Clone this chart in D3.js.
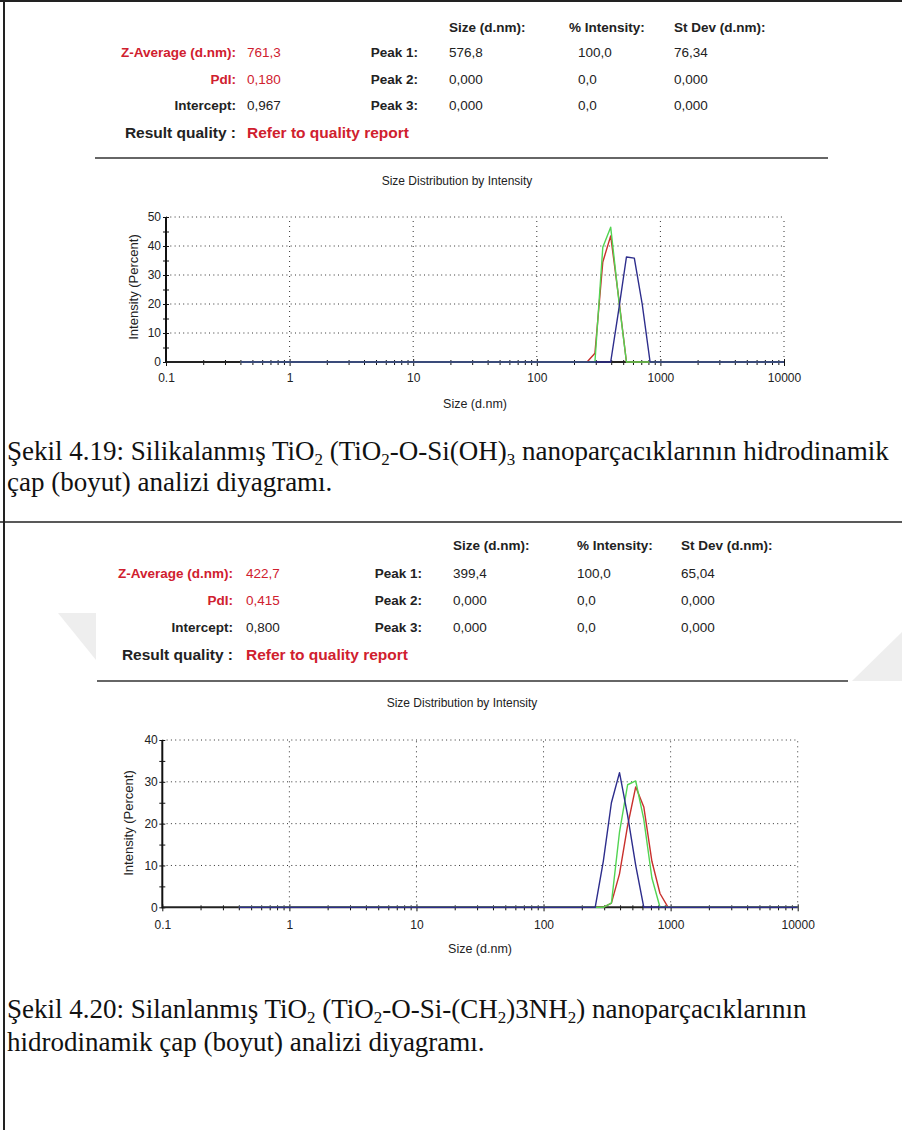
<!DOCTYPE html>
<html>
<head>
<meta charset="utf-8">
<script src="https://cdn.jsdelivr.net/npm/d3@7"></script>
<style>
  body { margin: 0; background: #fff; }
  svg text { font-family: "Liberation Sans", Arial, sans-serif; }
  svg text.caption { font-family: "Liberation Serif", "Times New Roman", serif; }
</style>
</head>
<body>
<div id="container"></div>
<script>
const W = 902, H = 1130;

// report table text
const headers = ["Size (d.nm):", "% Intensity:", "St Dev (d.nm):"];
const peakLabels = ["Peak 1:", "Peak 2:", "Peak 3:"];
const summaryLabels = ["Z-Average (d.nm):", "PdI:", "Intercept:"];
const summary1 = ["761,3", "0,180", "0,967"];
const summary2 = ["422,7", "0,415", "0,800"];
const peaks1 = [["576,8", "100,0", "76,34"], ["0,000", "0,0", "0,000"], ["0,000", "0,0", "0,000"]];
const peaks2 = [["399,4", "100,0", "65,04"], ["0,000", "0,0", "0,000"], ["0,000", "0,0", "0,000"]];

// axes
const xTickLabels = {0.1: "0.1", 1: "1", 10: "10", 100: "100", 1000: "1000", 10000: "10000"};
const yMax1 = 50, yMax2 = 40;

// size bins (d.nm) and intensity (%)
const sizes1 = [0.4, 255.0, 295.3, 342.0, 396.1, 458.7, 531.2, 615.1, 712.4, 825.0, 10000];
const red1   = [0, 0, 3, 34.5, 43.5, 22.5, 0, 0, 0, 0, 0];
const green1 = [0, 0, 0, 39.6, 46.5, 22, 0, 0, 0, 0, 0];
const blue1  = [0, 0, 0, 0, 0, 17.6, 36.2, 35.8, 20, 0, 0];

const sizes2 = [0.4, 255.0, 295.3, 342.0, 396.1, 458.7, 531.2, 615.1, 712.4, 825.0, 955.4, 10000];
const red2   = [0, 0, 0, 1, 8, 19.5, 28.8, 24, 11, 3.3, 0, 0];
const green2 = [0, 0, 0, 1, 18, 29.3, 30.2, 21, 7, 0, 0, 0];
const blue2  = [0, 0, 11, 25, 32.2, 22, 10, 0, 0, 0, 0, 0];

const colors = {red: "#c9302c", green: "#52d452", blue: "#2d2d8c"};
const redText = "#d0202e";

const svg = d3.select("#container")
  .append("svg")
  .attr("width", W)
  .attr("height", H);

// faint watermark bits
const wm = svg.append("g").attr("fill", "#eeeeee");
wm.append("polygon").attr("points", "58,613 96,613 96,660");
wm.append("polygon").attr("points", "852,681 902,632 902,681");

// page borders
svg.append("line").attr("x1", 0).attr("x2", W).attr("y1", 1).attr("y2", 1)
  .attr("stroke", "#222").attr("stroke-width", 2);
svg.append("line").attr("x1", 4).attr("x2", 4).attr("y1", 0).attr("y2", H)
  .attr("stroke", "#222").attr("stroke-width", 2);
svg.append("line").attr("x1", 0).attr("x2", W).attr("y1", 522).attr("y2", 522)
  .attr("stroke", "#222").attr("stroke-width", 1.5);

const block1 = {
  headerY: 27, rowY: [52, 79, 105], resultY: 133,
  labelRight: 236, valueX: 247, peakRight: 418,
  headX: [449, 569, 674], valX: [449, 578, 674],
  sep: [95, 828, 158],
  titleX: 457, titleY: 181,
  x0: 166, x1: 784, y0: 362, yTop: 217, yMax: yMax1,
  tickLabDy: 16, yLabPad: 5, xLabelX: 475, xLabelY: 404, yLabelX: 133, yLabelY: 287
};
const block2 = {
  headerY: 545, rowY: [573, 600, 627], resultY: 655,
  labelRight: 233, valueX: 246, peakRight: 422,
  headX: [453, 577, 681], valX: [453, 577, 681],
  sep: [97, 848, 681],
  titleX: 462, titleY: 703,
  x0: 162.3, x1: 797.7, y0: 907.3, yTop: 740, yMax: yMax2,
  tickLabDy: 18, yLabPad: 4.5, xLabelX: 480, xLabelY: 949, yLabelX: 128, yLabelY: 823
};

function addText(g, x, y, t, opts) {
  const o = opts || {};
  return g.append("text")
    .attr("x", x).attr("y", y).attr("dy", "0.35em")
    .attr("font-size", o.size || 13.5)
    .attr("font-weight", o.bold ? "bold" : null)
    .attr("text-anchor", o.anchor || "start")
    .attr("fill", o.fill || "#222")
    .text(t);
}

function drawBlock(b, summary, peaks, sizes, series) {
  const g = svg.append("g");

  headers.forEach((t, i) => addText(g, b.headX[i], b.headerY, t, {bold: true}));
  summaryLabels.forEach((t, i) => {
    const c = i < 2 ? redText : "#222";
    addText(g, b.labelRight, b.rowY[i], t, {bold: true, anchor: "end", fill: c});
    addText(g, b.valueX, b.rowY[i], summary[i], {fill: c});
    addText(g, b.peakRight, b.rowY[i], peakLabels[i], {bold: true, anchor: "end"});
    peaks[i].forEach((v, j) => addText(g, b.valX[j], b.rowY[i], v));
  });
  addText(g, b.labelRight, b.resultY, "Result quality :", {bold: true, anchor: "end", size: 15.5});
  addText(g, b.valueX, b.resultY, "Refer to quality report", {bold: true, size: 15.5, fill: redText});

  g.append("line")
    .attr("x1", b.sep[0]).attr("x2", b.sep[1]).attr("y1", b.sep[2]).attr("y2", b.sep[2])
    .attr("stroke", "#666").attr("stroke-width", 2);

  addText(g, b.titleX, b.titleY, "Size Distribution by Intensity", {size: 12, anchor: "middle"});

  const x = d3.scaleLog().domain([0.1, 10000]).range([b.x0, b.x1]);
  const y = d3.scaleLinear().domain([0, b.yMax]).range([b.y0, b.yTop]);
  const isMajor = d => Math.abs(Math.log10(d) - Math.round(Math.log10(d))) < 1e-6;

  // dotted grid
  g.append("g").selectAll("line")
    .data(y.ticks(b.yMax / 10).filter(d => d > 0))
    .join("line")
    .attr("x1", b.x0).attr("x2", b.x1)
    .attr("y1", d => y(d)).attr("y2", d => y(d))
    .attr("stroke", "#333").attr("stroke-dasharray", "1,3.3");
  g.append("g").selectAll("line")
    .data(x.ticks().filter(d => isMajor(d) && d > 0.1))
    .join("line")
    .attr("x1", d => x(d)).attr("x2", d => x(d))
    .attr("y1", b.y0).attr("y2", b.yTop)
    .attr("stroke", "#333").attr("stroke-dasharray", "1,4");

  // x axis
  const xAxis = d3.axisBottom(x)
    .tickValues(x.ticks())
    .tickFormat(d => isMajor(d) ? xTickLabels[+d.toPrecision(1)] : "")
    .tickSize(4);
  const xg = g.append("g")
    .attr("transform", "translate(0," + b.y0 + ")")
    .call(xAxis);
  xg.select(".domain").remove();
  xg.selectAll(".tick line")
    .attr("y1", d => isMajor(d) ? -3 : -2)
    .attr("y2", d => isMajor(d) ? 4 : 3)
    .attr("stroke", "#111");
  xg.selectAll(".tick text")
    .attr("y", b.tickLabDy).attr("dy", "0.35em")
    .attr("font-size", 12).attr("fill", "#222")
    .attr("font-family", "Liberation Sans, Arial, sans-serif");

  // y axis
  const yAxis = d3.axisLeft(y)
    .tickValues(d3.range(0, b.yMax + 1, 5))
    .tickFormat(d => d % 10 === 0 ? d : "")
    .tickSize(3);
  const yg = g.append("g")
    .attr("transform", "translate(" + b.x0 + ",0)")
    .call(yAxis);
  yg.select(".domain").remove();
  yg.selectAll(".tick line").attr("x1", 3).attr("stroke", "#111");
  yg.selectAll(".tick text")
    .attr("x", -b.yLabPad)
    .attr("font-size", 12).attr("fill", "#222")
    .attr("font-family", "Liberation Sans, Arial, sans-serif");

  g.append("line")
    .attr("x1", b.x0).attr("x2", b.x1).attr("y1", b.y0).attr("y2", b.y0)
    .attr("stroke", "#222").attr("stroke-width", 2);
  g.append("line")
    .attr("x1", b.x0).attr("x2", b.x0).attr("y1", b.y0 + 1).attr("y2", b.yTop)
    .attr("stroke", "#111").attr("stroke-width", 2);

  addText(g, b.xLabelX, b.xLabelY, "Size (d.nm)", {size: 12.5, anchor: "middle"});
  addText(g, 0, 0, "Intensity (Percent)", {size: 13, anchor: "middle"})
    .attr("transform", "translate(" + b.yLabelX + "," + b.yLabelY + ") rotate(-90)");

  // curves
  const line = d3.line().x(d => x(d[0])).y(d => y(d[1]));
  series.forEach(s => {
    g.append("path")
      .datum(sizes.map((v, i) => [v, s.values[i]]))
      .attr("d", line)
      .attr("fill", "none")
      .attr("stroke", s.color)
      .attr("stroke-width", 1.4)
      .attr("stroke-linejoin", "round");
  });
}

drawBlock(block1, summary1, peaks1, sizes1, [
  {values: red1, color: colors.red},
  {values: green1, color: colors.green},
  {values: blue1, color: colors.blue}
]);
drawBlock(block2, summary2, peaks2, sizes2, [
  {values: red2, color: colors.red},
  {values: green2, color: colors.green},
  {values: blue2, color: colors.blue}
]);

// captions (Times-like, subscripts as tspans)
function caption(x, y, parts) {
  const t = svg.append("text").attr("class", "caption")
    .attr("x", x).attr("y", y)
    .attr("font-size", 27).attr("fill", "#111");
  let shift = 0;
  parts.forEach(p => {
    if (typeof p === "string") {
      t.append("tspan").attr("dy", -shift).text(p);
      shift = 0;
    } else {
      t.append("tspan").attr("font-size", 17).attr("dy", 5).text(p.sub);
      shift = 5;
    }
  });
}
caption(7, 460, ["Şekil 4.19: Silikalanmış TiO", {sub: "2"}, " (TiO", {sub: "2"}, "-O-Si(OH)", {sub: "3"}, " nanoparçacıklarının hidrodinamik"]);
caption(7, 491, ["çap (boyut) analizi diyagramı."]);
caption(7, 1018, ["Şekil 4.20: Silanlanmış TiO", {sub: "2"}, " (TiO", {sub: "2"}, "-O-Si-(CH", {sub: "2"}, ")3NH", {sub: "2"}, ") nanoparçacıklarının"]);
caption(7, 1051, ["hidrodinamik çap (boyut) analizi diyagramı."]);
</script>
</body>
</html>
